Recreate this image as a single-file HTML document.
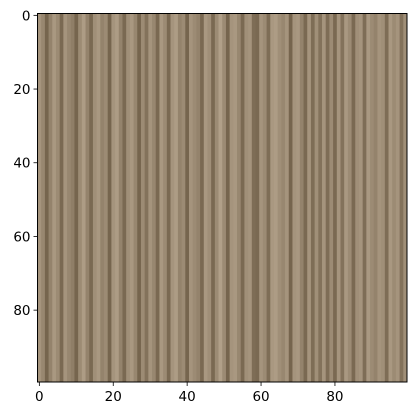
<!DOCTYPE html>
<html><head><meta charset="utf-8"><style>
html,body{margin:0;padding:0;background:#fff;}
svg{display:block;}
text{font-family:"DejaVu Sans","Liberation Sans",sans-serif;font-size:13.5px;fill:#000;}
</style></head><body>
<svg id="chart" width="416" height="416"></svg>
<script>
const columnShades = [
0.7,0.55,0.15,0.5,0.75,0.6,0.2,0.7,0.55,0.45,
0.15,0.6,0.8,0.5,0.2,0.65,0.75,0.5,0.6,0.15,
0.7,0.8,0.5,0.2,0.65,0.75,0.55,0.15,0.6,0.3,
0.7,0.55,0.2,0.75,0.6,0.2,0.7,0.8,0.5,0.6,
0.15,0.7,0.6,0.5,0.2,0.75,0.65,0.2,0.6,0.85,
0.6,0.15,0.7,0.75,0.55,0.2,0.65,0.7,0.25,0.2,
0.7,0.6,0.25,0.75,0.8,0.65,0.55,0.7,0.15,0.7,
0.75,0.5,0.2,0.7,0.25,0.65,0.3,0.7,0.25,0.6,
0.2,0.7,0.3,0.75,0.6,0.2,0.65,0.7,0.25,0.75,
0.6,0.5,0.7,0.65,0.25,0.75,0.6,0.7,0.3,0.65];
const xTicks = [0,20,40,60,80];
const yTicks = [0,20,40,60,80];
const nRows = 100;

const NS="http://www.w3.org/2000/svg";
const svg=document.getElementById('chart');
const L=37.5,T=13.5,W=369.5,H=368.5;
const cw=W/columnShades.length, rh=H/nRows;
const xs=v=>L+(v+0.5)*cw, ys=v=>T+(v+0.5)*rh;
function mk(t,a){const e=document.createElementNS(NS,t);for(const k in a)e.setAttribute(k,a[k]);svg.appendChild(e);return e;}
const g0=[105,88,65],g1=[190,173,150];
columnShades.forEach((s,i)=>{
  const c=g0.map((v,j)=>Math.round(v+(g1[j]-v)*s));
  const r=mk('rect',{x:L+i*cw,y:T,width:cw+0.4,height:H,fill:`rgb(${c})`});
  
  
});
const f=mk('rect',{x:L,y:T,width:W,height:H,fill:'none',stroke:'#000','stroke-width':1});


xTicks.forEach(v=>{
  const x=xs(v);
  const l=mk('line',{x1:x,x2:x,y1:T+H,y2:T+H+4,stroke:'#000','stroke-width':0.8});
  
  
  const t=mk('text',{x:x,y:T+H+19,'text-anchor':'middle'});
  t.textContent=v;
  
  
});
yTicks.forEach(v=>{
  const y=ys(v);
  const l=mk('line',{x1:L-4,x2:L,y1:y,y2:y,stroke:'#000','stroke-width':0.8});
  
  
  const t=mk('text',{x:L-7,y:y+5,'text-anchor':'end'});
  t.textContent=v;
  
  
});
</script>
</body></html>
